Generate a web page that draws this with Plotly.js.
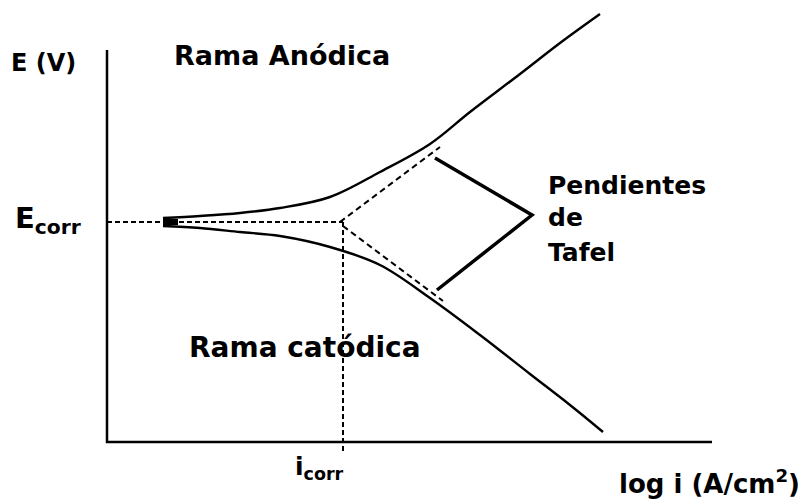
<!DOCTYPE html>
<html>
<head>
<meta charset="utf-8">
<script src="https://cdn.plot.ly/plotly-3.0.1.min.js"></script>
<style>html,body{margin:0;padding:0;background:#fff}</style>
</head>
<body>
<div id="plot" style="width:808px;height:500px"></div>
<script>
// chart units: x = log i, y = E (both arbitrary, origin at axis corner)
var anodicX = [56, 93, 133, 173, 223, 273, 323, 363, 413, 453, 493];
var anodicY = [224, 226, 229, 234, 245, 270, 298, 330, 368, 399, 428];
var cathodicX = [56, 93, 133, 173, 223, 273, 323, 373, 423, 463, 496];
var cathodicY = [216, 214, 210, 206, 195, 177, 144, 107, 68, 37, 10];
var tafelAnX = [233, 333];
var tafelAnY = [220, 295];
var tafelCatX = [236, 336];
var tafelCatY = [216, 141];
var ecorr = 220;
var icorr = 236;
var bracketX = [328, 425, 330];
var bracketY = [284, 227, 152];

var black = "#000";
var dash = "5px,3px";

var traces = [
  // axes
  {x: [0, 0, 605], y: [392, 0, 0], mode: "lines", line: {color: black, width: 2.5}},
  // Ecorr and icorr guides
  {x: [0, icorr], y: [ecorr, ecorr], mode: "lines", line: {color: black, width: 2, dash: dash}},
  {x: [icorr, icorr], y: [ecorr, -10], mode: "lines", line: {color: black, width: 2, dash: dash}},
  // Tafel extrapolations
  {x: tafelAnX, y: tafelAnY, mode: "lines", line: {color: black, width: 2, dash: "6px,4px"}},
  {x: tafelCatX, y: tafelCatY, mode: "lines", line: {color: black, width: 2, dash: "6px,4px"}},
  // branches
  {x: anodicX, y: anodicY, mode: "lines", line: {color: black, width: 2.4, shape: "spline"}},
  {x: cathodicX, y: cathodicY, mode: "lines", line: {color: black, width: 2.4, shape: "spline"}},
  {x: [56, 71], y: [ecorr, ecorr], mode: "lines", line: {color: black, width: 6}},
  // bracket
  {x: bracketX, y: bracketY, mode: "lines", line: {color: black, width: 3.5}}
];

var f = {family: "DejaVu Sans, Verdana, sans-serif", color: black};
function note(x, y, text, size) {
  return {x: x, y: y, text: text, showarrow: false, xanchor: "left",
          yanchor: "middle", font: Object.assign({size: size}, f), align: "left"};
}

var layout = {
  width: 808, height: 500,
  margin: {l: 0, r: 0, t: 0, b: 0},
  paper_bgcolor: "#fff", plot_bgcolor: "#fff",
  showlegend: false,
  xaxis: {range: [-107, 701], visible: false, fixedrange: true},
  yaxis: {range: [-58, 442], visible: false, fixedrange: true},
  annotations: [
    note(-98, 379, "<b>E (V)</b>", 24),
    note(65, 387, "<b>Rama Anódica</b>", 27),
    note(-94, 222, "<b>E<sub>corr</sub></b>", 29),
    note(439, 257, "<b>Pendientes</b>", 25),
    note(439, 225, "<b>de</b>", 25),
    note(439, 190, "<b>Tafel</b>", 25),
    note(80, 95, "<b>Rama catódica</b>", 28),
    note(186, -26, "<b>i<sub>corr</sub></b>", 25),
    note(510, -40, "<b>log i (A/cm<sup>2</sup>)</b>", 26)
  ]
};

Plotly.newPlot("plot", traces.map(function (t) { t.hoverinfo = "skip"; return t; }), layout, {displayModeBar: false, staticPlot: true});
</script>
</body>
</html>
